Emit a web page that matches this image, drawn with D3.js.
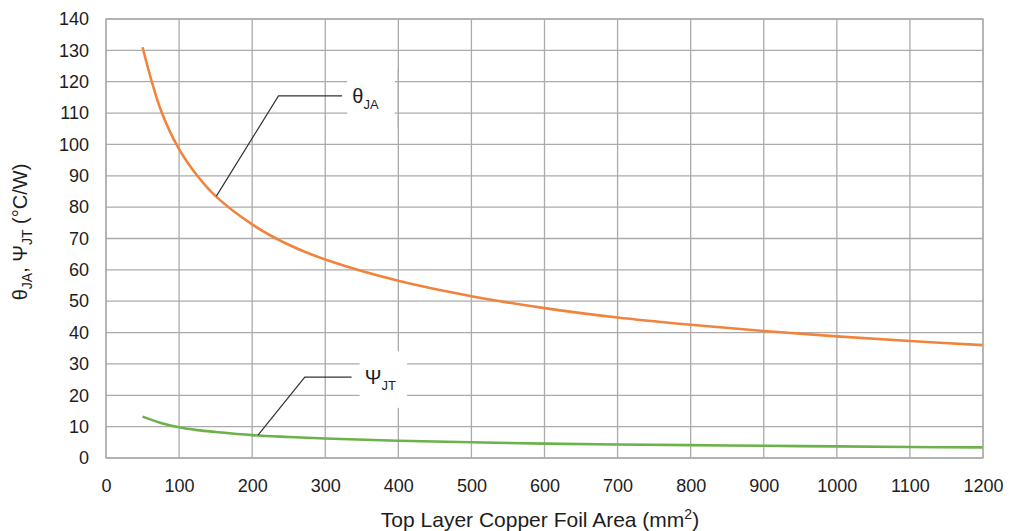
<!DOCTYPE html>
<html>
<head>
<meta charset="utf-8">
<script src="https://cdn.jsdelivr.net/npm/d3@7"></script>
<style>
  body { margin: 0; background: #fff; }
  text { font-family: "Liberation Sans", Arial, sans-serif; fill: #1d1d1d; }
</style>
</head>
<body>
<div id="chart"></div>
<script>
// values
const area = [50, 75, 100, 125, 150, 200, 250, 300, 400, 500, 600, 700, 800, 900, 1000, 1100, 1200];
const thetaJA = [131, 111, 98.5, 90, 83.5, 74.5, 68, 63.3, 56.5, 51.6, 47.8, 44.8, 42.5, 40.5, 38.8, 37.3, 36];
const psiJT = [13.2, 11.2, 9.8, 8.9, 8.3, 7.3, 6.7, 6.2, 5.5, 5.0, 4.6, 4.3, 4.1, 3.9, 3.7, 3.5, 3.4];
const xTicks = d3.range(0, 1201, 100);
const yTicks = d3.range(0, 141, 10);

const W = 1009, H = 531;
const margin = { top: 19, right: 26, bottom: 73, left: 106 };
const width = W - margin.left - margin.right;
const height = H - margin.top - margin.bottom;

const svg = d3.select("#chart").append("svg")
    .attr("width", W)
    .attr("height", H);

const g = svg.append("g")
    .attr("transform", "translate(" + margin.left + "," + margin.top + ")");

const x = d3.scaleLinear().domain([0, 1200]).range([0, width]);
const y = d3.scaleLinear().domain([0, 140]).range([height, 0]);

// grid
const gridColor = "#ababab";
g.selectAll(".hgrid").data(yTicks).enter().append("line")
    .attr("x1", 0).attr("x2", width)
    .attr("y1", d => y(d)).attr("y2", d => y(d))
    .attr("stroke", gridColor).attr("stroke-width", 1.3);
g.selectAll(".vgrid").data(xTicks).enter().append("line")
    .attr("y1", 0).attr("y2", height)
    .attr("x1", d => x(d)).attr("x2", d => x(d))
    .attr("stroke", gridColor).attr("stroke-width", 1.3);

// axes (labels only)
const xAxis = g.append("g")
    .attr("transform", "translate(0," + height + ")")
    .call(d3.axisBottom(x).tickValues(xTicks).tickFormat(d3.format("d")).tickSize(0).tickPadding(21));
const yAxis = g.append("g")
    .call(d3.axisLeft(y).tickValues(yTicks).tickFormat(d3.format("d")).tickSize(0).tickPadding(17));
[xAxis, yAxis].forEach(a => {
    a.select(".domain").remove();
    a.selectAll("text")
        .style("font-family", "'Liberation Sans', Arial, sans-serif")
        .style("font-size", "18px")
        .attr("fill", "#1d1d1d");
});

// label boxes (white backgrounds breaking the horizontal grid)
g.append("rect")
    .attr("x", x(330)).attr("y", y(124))
    .attr("width", x(395) - x(330)).attr("height", y(105) - y(124))
    .attr("fill", "#fff");
g.append("rect")
    .attr("x", x(347)).attr("y", y(34))
    .attr("width", x(412) - x(347)).attr("height", y(16) - y(34))
    .attr("fill", "#fff");

// vertical grid line redrawn over the box
g.selectAll(".vgrid2").data([400]).enter().append("line")
    .attr("y1", y(124)).attr("y2", y(105))
    .attr("x1", d => x(d)).attr("x2", d => x(d))
    .attr("stroke", gridColor).attr("stroke-width", 1.3);

// curves
const line = (vals) => d3.line()
    .x((d, i) => x(area[i]))
    .y(d => y(d))
    .curve(d3.curveCatmullRom.alpha(0.5))(vals);

g.append("path").attr("d", line(thetaJA))
    .attr("fill", "none").attr("stroke", "#f0843e").attr("stroke-width", 2.6);
g.append("path").attr("d", line(psiJT))
    .attr("fill", "none").attr("stroke", "#6cb24a").attr("stroke-width", 2.6);

// leader lines
const leader = d3.line().x(d => x(d[0])).y(d => y(d[1]));
g.append("path")
    .attr("d", leader([[151, 83.5], [236, 115.5], [323, 115.5]]))
    .attr("fill", "none").attr("stroke", "#333").attr("stroke-width", 1.2);
g.append("path")
    .attr("d", leader([[208, 7.3], [272, 25.8], [336, 25.8]]))
    .attr("fill", "none").attr("stroke", "#333").attr("stroke-width", 1.2);

// series labels
const lab1 = g.append("text").attr("x", x(337)).attr("y", y(113.2))
    .style("font-size", "20px");
lab1.append("tspan").text("θ");
lab1.append("tspan").attr("dy", 6).style("font-size", "13px").text("JA");

const lab2 = g.append("text").attr("x", x(354)).attr("y", y(23.5))
    .style("font-size", "20px");
lab2.append("tspan").text("Ψ");
lab2.append("tspan").attr("dy", 6).style("font-size", "13px").text("JT");

// plot border
g.append("rect")
    .attr("width", width).attr("height", height)
    .attr("fill", "none").attr("stroke", gridColor).attr("stroke-width", 1.3);

// axis titles
const xt = svg.append("text")
    .attr("x", 540).attr("y", 527)
    .attr("text-anchor", "middle")
    .style("font-size", "21px");
xt.append("tspan").text("Top Layer Copper Foil Area (mm");
xt.append("tspan").attr("dy", -8).style("font-size", "14px").text("2");
xt.append("tspan").attr("dy", 8).text(")");

const yt = svg.append("text")
    .attr("transform", "translate(27," + 232 + ") rotate(-90)")
    .attr("text-anchor", "middle")
    .style("font-size", "20px");
yt.append("tspan").text("θ");
yt.append("tspan").attr("dy", 5).style("font-size", "14px").text("JA");
yt.append("tspan").attr("dy", -5).text(", Ψ");
yt.append("tspan").attr("dy", 5).style("font-size", "14px").text("JT");
yt.append("tspan").attr("dy", -5).text(" (°C/W)");
</script>
</body>
</html>
